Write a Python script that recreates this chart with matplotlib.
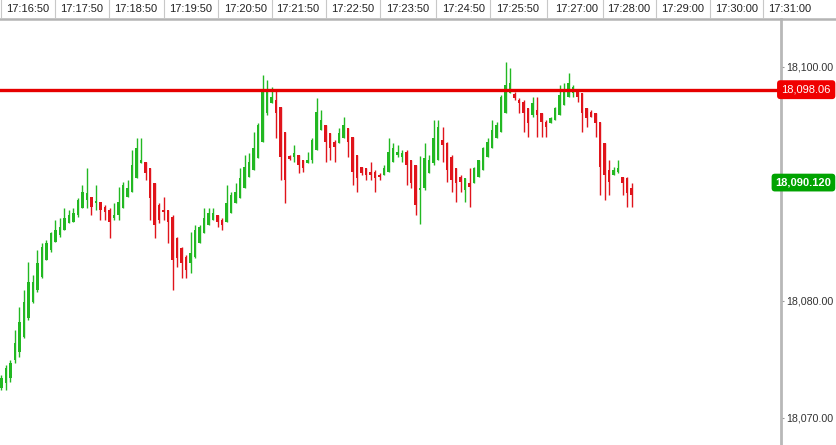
import numpy as np
import matplotlib.pyplot as plt
from matplotlib.transforms import blended_transform_factory
from matplotlib.lines import Line2D

plt.rcParams['font.family'] = ['Liberation Sans', 'DejaVu Sans']

# 5-second OHLC bars
opens = [18072.57, 18072.99, 18073.42, 18074.96, 18075.64, 18076.93, 18078.55, 18079.92, 18080.94, 18082.05,
         18083.51, 18084.36, 18085.05, 18085.64, 18086.07, 18086.67, 18086.76, 18087.35, 18087.95, 18088.64,
         18088.89, 18088.38, 18088.47, 18088.04, 18087.78, 18087.10, 18087.35, 18087.95, 18088.89, 18089.32,
         18090.52, 18091.80, 18091.88, 18091.37, 18090.09, 18088.21, 18087.78, 18087.78, 18087.18, 18085.39,
         18084.53, 18083.76, 18083.25, 18083.76, 18084.96, 18085.82, 18086.50, 18086.93, 18087.35, 18086.93,
         18086.76, 18087.52, 18088.38, 18088.81, 18089.66, 18090.60, 18091.20, 18092.23, 18093.59, 18096.07,
         18096.93, 18097.18, 18096.58, 18094.45, 18092.40, 18092.31, 18092.48, 18092.05, 18091.80, 18092.05,
         18092.91, 18094.62, 18095.05, 18094.36, 18093.59, 18093.51, 18093.94, 18094.79, 18094.02, 18092.48,
         18091.46, 18091.37, 18091.03, 18091.03, 18090.77, 18090.77, 18091.03, 18091.88, 18092.48, 18092.31,
         18092.74, 18092.05, 18091.63, 18089.49, 18089.66, 18090.94, 18091.80, 18092.05, 18093.76, 18093.51,
         18092.31, 18091.37, 18090.60, 18089.49, 18090.09, 18090.09, 18090.60, 18091.20, 18092.31, 18093.08,
         18093.94, 18094.45, 18096.07, 18097.78, 18097.70, 18097.18, 18097.01, 18096.50, 18095.90, 18096.33,
         18096.07, 18095.30, 18095.22, 18095.47, 18095.90, 18096.76, 18097.44, 18097.78, 18097.87, 18097.78,
         18096.50, 18096.16, 18096.07, 18095.30, 18093.51, 18091.20, 18090.77, 18091.03, 18090.60, 18090.52,
         18089.66]
highs = [18073.68, 18074.53, 18074.96, 18077.52, 18079.49, 18080.94, 18083.34, 18082.23, 18084.36, 18084.96,
         18085.22, 18085.90, 18086.93, 18087.10, 18087.95, 18087.78, 18087.95, 18088.81, 18089.92, 18091.37,
         18088.89, 18089.92, 18088.47, 18088.21, 18087.95, 18088.38, 18089.75, 18090.17, 18090.35, 18092.91,
         18093.94, 18093.94, 18091.88, 18091.37, 18090.09, 18088.38, 18088.89, 18087.78, 18087.35, 18085.47,
         18084.62, 18083.94, 18085.90, 18086.50, 18086.50, 18087.95, 18087.95, 18087.95, 18087.35, 18087.10,
         18089.92, 18089.32, 18090.09, 18091.37, 18092.48, 18092.65, 18094.45, 18095.22, 18099.32, 18098.89,
         18098.29, 18098.04, 18096.58, 18094.45, 18092.48, 18093.34, 18092.48, 18092.05, 18092.74, 18093.94,
         18097.35, 18096.33, 18095.05, 18094.36, 18093.76, 18094.79, 18095.73, 18094.79, 18094.02, 18092.48,
         18091.46, 18091.37, 18091.88, 18091.20, 18090.94, 18091.63, 18093.94, 18093.51, 18093.34, 18092.91,
         18092.91, 18092.05, 18091.63, 18092.40, 18093.51, 18092.48, 18095.47, 18095.47, 18094.88, 18093.59,
         18092.48, 18091.37, 18090.77, 18090.52, 18091.37, 18091.46, 18092.05, 18093.17, 18093.94, 18095.47,
         18095.30, 18097.61, 18100.43, 18099.92, 18097.87, 18097.35, 18097.18, 18096.50, 18097.44, 18097.44,
         18096.07, 18095.47, 18095.73, 18096.58, 18098.47, 18098.64, 18099.49, 18098.47, 18097.87, 18097.78,
         18096.50, 18096.33, 18096.07, 18095.30, 18093.51, 18092.05, 18091.46, 18092.05, 18090.60, 18090.60,
         18090.09]
lows = [18072.40, 18072.40, 18073.08, 18074.70, 18075.22, 18076.84, 18078.38, 18079.83, 18080.77, 18081.97,
        18083.51, 18084.19, 18085.05, 18085.47, 18086.07, 18086.67, 18086.76, 18087.18, 18087.95, 18087.95,
        18087.35, 18087.78, 18086.93, 18086.93, 18085.39, 18086.93, 18086.93, 18087.95, 18088.89, 18089.32,
        18090.52, 18091.80, 18090.35, 18086.93, 18085.39, 18086.67, 18086.93, 18084.96, 18080.94, 18082.91,
        18081.97, 18081.97, 18082.40, 18083.68, 18084.96, 18085.82, 18086.50, 18086.93, 18086.33, 18086.07,
        18086.76, 18087.52, 18088.38, 18088.81, 18089.66, 18090.60, 18091.20, 18092.23, 18093.59, 18095.90,
        18096.93, 18093.94, 18090.35, 18088.38, 18092.05, 18091.88, 18090.94, 18091.03, 18091.80, 18091.80,
        18092.91, 18094.62, 18091.88, 18092.05, 18091.88, 18093.51, 18093.94, 18092.31, 18089.92, 18089.32,
        18090.77, 18090.35, 18090.35, 18089.32, 18090.35, 18090.77, 18091.03, 18091.88, 18092.31, 18091.88,
        18089.92, 18089.66, 18087.35, 18086.58, 18089.49, 18090.94, 18091.63, 18092.05, 18091.88, 18090.17,
        18089.32, 18088.47, 18089.32, 18088.47, 18088.04, 18090.09, 18090.60, 18091.20, 18092.31, 18093.08,
        18093.94, 18094.45, 18096.07, 18097.78, 18097.18, 18096.07, 18094.45, 18094.02, 18095.73, 18094.02,
        18094.02, 18094.02, 18095.22, 18095.47, 18095.90, 18096.76, 18097.44, 18097.44, 18097.01, 18094.45,
        18094.88, 18095.73, 18094.02, 18089.06, 18088.64, 18089.06, 18090.77, 18090.94, 18089.06, 18088.04,
        18088.04]
closes = [18073.42, 18074.28, 18074.70, 18076.41, 18078.21, 18079.92, 18081.63, 18081.63, 18083.25, 18084.62,
          18084.96, 18085.82, 18086.07, 18086.33, 18087.10, 18087.35, 18087.52, 18088.64, 18089.32, 18089.23,
          18088.04, 18088.55, 18087.78, 18087.61, 18086.76, 18087.35, 18088.47, 18089.92, 18089.66, 18091.63,
          18093.08, 18092.05, 18090.94, 18088.81, 18086.50, 18086.93, 18087.61, 18086.76, 18083.51, 18083.68,
          18083.25, 18082.65, 18084.11, 18086.07, 18086.33, 18087.10, 18087.52, 18087.52, 18086.76, 18086.50,
          18088.38, 18089.06, 18089.32, 18090.52, 18091.46, 18091.88, 18093.08, 18095.05, 18098.04, 18098.04,
          18097.44, 18096.07, 18092.31, 18090.35, 18092.14, 18092.65, 18091.63, 18091.37, 18092.05, 18093.76,
          18096.16, 18095.47, 18093.59, 18093.08, 18093.17, 18094.36, 18095.05, 18093.59, 18091.03, 18090.52,
          18090.94, 18090.77, 18090.77, 18090.52, 18090.60, 18091.37, 18092.74, 18093.08, 18092.74, 18092.65,
          18091.63, 18090.09, 18088.21, 18089.66, 18092.23, 18092.05, 18093.94, 18094.88, 18093.34, 18091.20,
          18090.35, 18090.09, 18090.17, 18090.52, 18089.75, 18091.37, 18092.05, 18093.08, 18093.59, 18094.62,
          18095.05, 18097.44, 18098.47, 18098.64, 18097.35, 18096.93, 18096.07, 18095.22, 18096.93, 18095.90,
          18095.30, 18094.88, 18095.64, 18096.50, 18097.61, 18097.87, 18098.64, 18098.29, 18097.44, 18096.07,
          18095.64, 18095.73, 18095.22, 18091.46, 18090.77, 18090.17, 18091.20, 18091.37, 18090.09, 18089.23,
          18089.06]

time_labels = ['17:16:50', '17:17:50', '17:18:50', '17:19:50', '17:20:50', '17:21:50', '17:22:50', '17:23:50',
               '17:24:50', '17:25:50', '17:27:00', '17:28:00', '17:29:00', '17:30:00', '17:31:00']
time_pos = [5.9, 17.9, 29.9, 42.1, 54.3, 65.9, 78.1, 90.3, 102.6, 114.7, 127.7, 139.4, 151.4, 163.4, 175.2]
price_ticks = [18070, 18080, 18090, 18100]
ref_level = 18098.06
last_price = 18090.12

GREEN = '#22b822'
RED = '#e0141b'

W, H = 836, 445
fig = plt.figure(figsize=(W / 100, H / 100), dpi=100)
ax = fig.add_axes([0, 0, 781 / W, 426 / H])

o = np.array(opens)
h = np.array(highs)
l = np.array(lows)
c = np.array(closes)
idx = np.arange(len(o))
up = c >= o
cols = np.where(up, GREEN, RED)

ax.vlines(idx, l, h, colors=cols, linewidth=1.0)
body_lo = np.minimum(o, c)
body_h = np.maximum(np.abs(c - o), 0.2)
ax.bar(idx, body_h, bottom=body_lo, width=0.62, color=cols, linewidth=0)

ax.axhline(ref_level, color='#e60000', linewidth=2.4, zorder=5)

ax.set_xlim(-0.33, 173.2)
ax.set_ylim(18067.69, 18104.10)

for s in ['top', 'left', 'bottom']:
    ax.spines[s].set_visible(False)
ax.spines['right'].set_color('#b8b8b8')
ax.spines['right'].set_linewidth(2)
ax.set_xticks([])
ax.yaxis.tick_right()
ax.set_yticks(price_ticks)
# the 18,090 label sits under the last-price box
ax.set_yticklabels(['' if v == 18090 else f'{v:,.2f}' for v in price_ticks])
ax.tick_params(axis='y', length=2.2, width=0.8, color='#999999', pad=1.5,
               labelsize=7.7, labelcolor='#333333')

# price labels on the axis
tr = blended_transform_factory(ax.transAxes, ax.transData)
ax.text(781.5 / 781, ref_level, f'{ref_level:,.2f}', transform=tr, ha='left', va='center',
        fontsize=8, color='white', zorder=10,
        bbox=dict(boxstyle='round,pad=0.4,rounding_size=0.3', fc='#f00000', ec='none'))
ax.text(775.5 / 781, last_price, f'{last_price:,.3f}', transform=tr, ha='left', va='center',
        fontsize=8, color='white', fontweight='bold', zorder=10,
        bbox=dict(boxstyle='round,pad=0.35,rounding_size=0.3', fc='#00a300', ec='none'))

# time header
trh = blended_transform_factory(ax.transData, fig.transFigure)
for pos, lab in zip(time_pos, time_labels):
    ax.text(pos, 1 - 9 / H, lab, transform=trh, ha='center', va='center',
            fontsize=8, color='#222222', clip_on=False)
seps = [time_pos[0] - (time_pos[1] - time_pos[0]) / 2]
seps += [(a + b) / 2 for a, b in zip(time_pos[:-1], time_pos[1:])]
for s in seps:
    ax.add_line(Line2D([s, s], [1 - 17 / H, 1.0], transform=trh, color='#c8c8c8',
                       linewidth=0.8, clip_on=False))
fig.add_artist(Line2D([0, 1], [1 - 19 / H, 1 - 19 / H], color='#b4b4b4', linewidth=1.8))

fig.savefig('out.png', dpi=100)
